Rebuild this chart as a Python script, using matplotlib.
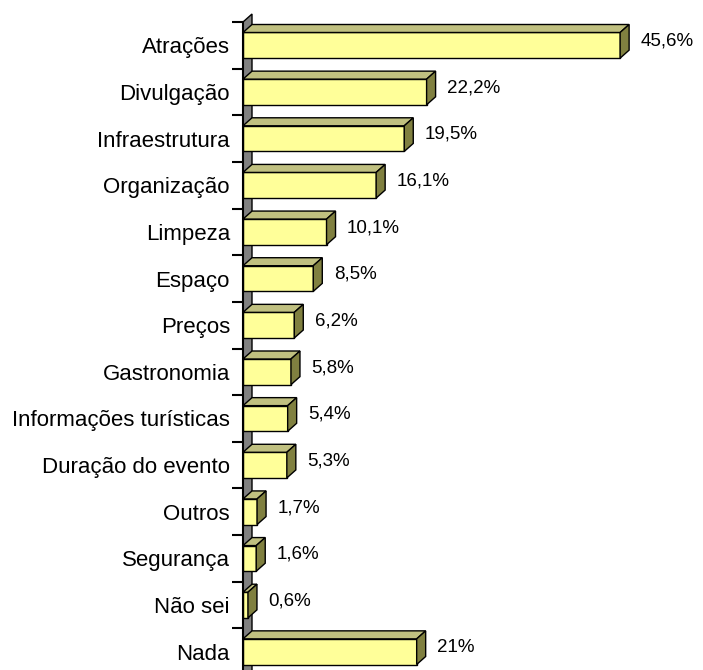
import matplotlib
matplotlib.use("Agg")
import matplotlib.pyplot as plt
from matplotlib.patches import Polygon
import numpy as np

categories = ["Atrações", "Divulgação", "Infraestrutura", "Organização", "Limpeza",
              "Espaço", "Preços", "Gastronomia", "Informações turísticas",
              "Duração do evento", "Outros", "Segurança", "Não sei", "Nada"]
values = [45.6, 22.2, 19.5, 16.1, 10.1, 8.5, 6.2, 5.8, 5.4, 5.3, 1.7, 1.6, 0.6, 21]

plt.rcParams['font.family'] = ['Liberation Sans', 'DejaVu Sans']

W, H = 703, 670
fig = plt.figure(figsize=(W / 100, H / 100), dpi=100)
ax_left = 243 / W
ax_top = 1 - 22 / H
ax_bot = 1 - 675 / H
ax = fig.add_axes([ax_left, ax_bot, 1 - ax_left, ax_top - ax_bot])

n = len(categories)
px_per_unit = 8.27
xmax = (W - 243) / px_per_unit
row_px = 46.67
dx = 9 / px_per_unit
dy = 8 / row_px
bh = 0.55
lw = 1.0

ax.set_xlim(0, xmax)
ax.set_ylim(n - 0.5, -0.5)

front_c = "#FFFF99"
top_c = "#C0C080"
side_c = "#808040"
wall_c = "#808080"

# wall
wall = Polygon([(0, n - 0.5 + 1), (0, -0.5), (dx, -0.5 - dy), (dx, n - 0.5 + 1)],
               closed=True, facecolor=wall_c, edgecolor="black", lw=lw,
               clip_on=False, zorder=1)
ax.add_patch(wall)

y = np.arange(n)
ax.barh(y, values, height=bh, color=front_c, edgecolor="black", lw=lw, zorder=3)
for yi, v in zip(y, values):
    t = yi - bh / 2
    b = yi + bh / 2
    top = Polygon([(0, t), (dx, t - dy), (v + dx, t - dy), (v, t)], closed=True,
                  facecolor=top_c, edgecolor="black", lw=lw, zorder=3, clip_on=False)
    side = Polygon([(v, t), (v + dx, t - dy), (v + dx, b - dy), (v, b)], closed=True,
                   facecolor=side_c, edgecolor="black", lw=lw, zorder=3, clip_on=False)
    ax.add_patch(top)
    ax.add_patch(side)
    s = ("%.1f" % v).replace(".", ",") if v != int(v) else "%d" % v
    ax.text(v + dx + 1.4, yi - 0.09, s + "%", fontsize=13.5, va="center", ha="left",
            color="black")

for sp in ["top", "right", "bottom"]:
    ax.spines[sp].set_visible(False)
ax.spines["left"].set_linewidth(1.5)
ax.spines["left"].set_zorder(4)
ax.set_xticks([])
ax.set_yticks(np.arange(n + 1) - 0.5)
ax.set_yticklabels([])
ax.tick_params(axis="y", which="major", length=8, width=1.5, direction="out")
ax.set_yticks(y, minor=True)
ax.set_yticklabels(categories, minor=True, fontsize=16)
ax.tick_params(axis="y", which="minor", length=0, pad=9.4)

fig.savefig("out.png", dpi=100)
